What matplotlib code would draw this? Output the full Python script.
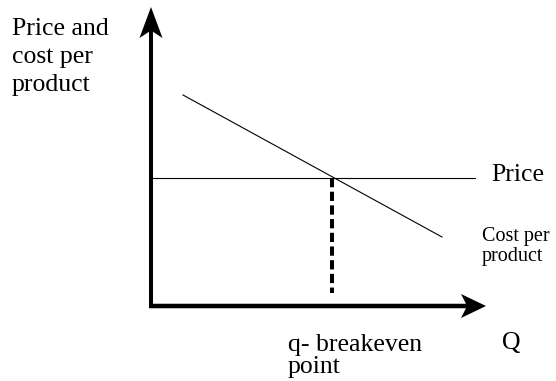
import matplotlib.pyplot as plt
import matplotlib.patches as mpatches

# break-even chart, units: quantity on x, price/cost on y
q_cost = [32, 291]
cost_per_product = [211, 69]
q_price = [0, 324]
price = [128, 128]
q_breakeven = 181
x_axis_end = 335
y_axis_end = 299

plt.rcParams['font.family'] = ['Liberation Serif', 'DejaVu Serif']

fig = plt.figure(figsize=(5.56, 3.81), dpi=100)
ax = fig.add_axes([0, 0, 1, 1])
ax.set_xlim(-151, 405)
ax.set_ylim(-75, 306)
ax.axis('off')

# axes with arrow heads
ax.add_patch(mpatches.FancyArrow(0, -2, 0, y_axis_end + 2, width=4, head_width=23,
                                 head_length=31, overhang=0.2,
                                 length_includes_head=True, color='black', lw=0))
ax.add_patch(mpatches.FancyArrow(-2, 0, x_axis_end + 2, 0, width=4.5, head_width=24,
                                 head_length=25, overhang=0.2,
                                 length_includes_head=True, color='black', lw=0))

ax.plot(q_price, price, color='black', lw=0.8)
ax.plot(q_cost, cost_per_product, color='black', lw=0.8)
ax.plot([q_breakeven, q_breakeven], [price[0], 13], color='black', lw=2.9,
        ls=(0, (2.3, 1.1)))


def label(x, y, lines, size, step):
    for i, s in enumerate(lines):
        ax.text(x, y - i * step, s, fontsize=size, va='baseline', ha='left')


label(-139, 271, ["Price and", "cost per", "product"], 18.5, 28)
label(340, 125, ["Price"], 18.5, 0)
label(331, 65, ["Cost per", "product"], 14.5, 20)
label(137, -44.5, ["q- breakeven", "point"], 18.5, 23)
label(351, -43, ["Q"], 18.5, 0)

fig.savefig("out.png", dpi=100)
